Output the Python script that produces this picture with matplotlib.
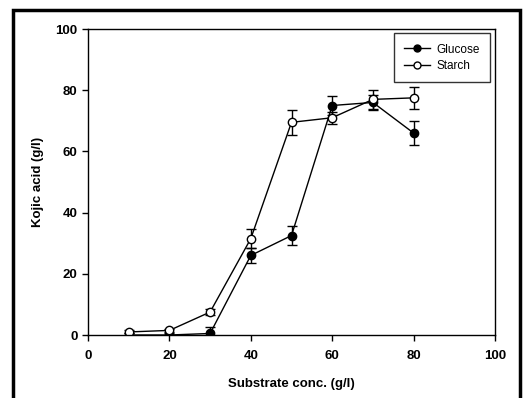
import matplotlib
matplotlib.use("Agg")
import matplotlib.pyplot as plt
from matplotlib.patches import Rectangle
from matplotlib.lines import Line2D

substrate = [10, 20, 30, 40, 50, 60, 70, 80]
glucose = [0, 0, 0.5, 26, 32.5, 75, 76, 66]
glucose_err = [0.5, 0.5, 2, 2.5, 3, 3, 2.5, 4]
starch = [1, 1.5, 7.5, 31.5, 69.5, 71, 77, 77.5]
starch_err = [0.5, 0.5, 1, 3, 4, 2, 3, 3.5]

plt.rcParams['font.family'] = ['Liberation Sans', 'DejaVu Sans']

fig = plt.figure(figsize=(5.26, 3.98), dpi=100)
ax = fig.add_axes([88 / 526, 63 / 398, 407 / 526, 306 / 398])

ax.errorbar(substrate, glucose, yerr=glucose_err, color='black', marker='o',
            markersize=6, mfc='black', mec='black', lw=1, capsize=3.5,
            elinewidth=1)
ax.errorbar(substrate, starch, yerr=starch_err, color='black', marker='o',
            markersize=6, mfc='white', mec='black', lw=1, capsize=3.5,
            elinewidth=1)

ax.set_xlim(0, 100)
ax.set_ylim(0, 100)
ax.set_xticks(range(0, 101, 20))
ax.set_yticks(range(0, 101, 20))
ax.tick_params(direction='out', length=4, width=1, labelsize=9.5)
ax.tick_params(axis='x', pad=7)
for lab in ax.get_xticklabels() + ax.get_yticklabels():
    lab.set_fontweight('bold')
for s in ax.spines.values():
    s.set_linewidth(1)

ax.set_xlabel('Substrate conc. (g/l)', fontsize=9.5, fontweight='bold', labelpad=11)
ax.set_ylabel('Kojic acid (g/l)', fontsize=9.5, fontweight='bold', labelpad=8)

handles = [Line2D([], [], color='black', marker='o', markersize=5, mfc='black', lw=1),
           Line2D([], [], color='black', marker='o', markersize=5, mfc='white', lw=1)]
leg = ax.legend(handles, ['Glucose', 'Starch'], loc='upper right', fontsize=8.5,
                frameon=True, fancybox=False, edgecolor='black', handlelength=2.2,
                handletextpad=0.5, borderpad=0.9, labelspacing=0.35,
                borderaxespad=0, bbox_to_anchor=(0.988, 0.987))
leg.get_frame().set_linewidth(1)

fig.patches.append(Rectangle((13 / 526, -0.02), 507 / 526, (398 - 10) / 398 + 0.02,
                             transform=fig.transFigure, fill=False,
                             edgecolor='black', lw=2.5))

fig.savefig('out.png', dpi=100)
